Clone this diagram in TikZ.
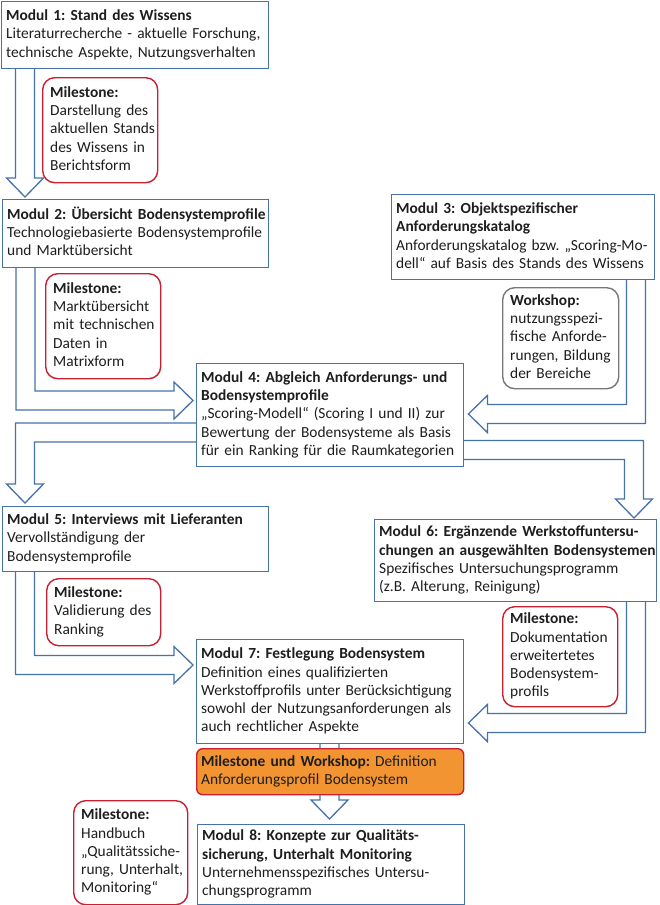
\documentclass[tikz,border=0pt]{standalone}
\usepackage{fontspec}
\setmainfont{Carlito}
\usetikzlibrary{calc,backgrounds}
\definecolor{bblue}{RGB}{70,114,170}
\definecolor{mred}{RGB}{200,32,48}
\definecolor{wgray}{RGB}{120,120,120}
\definecolor{morange}{RGB}{242,148,50}
\definecolor{tblack}{RGB}{30,30,30}
\frenchspacing
\newcommand\bodyfont{\fontsize{15.4}{18.3}\selectfont}
\newcommand\ls[1]{\noindent\begin{tabular}{@{}l@{}}#1\end{tabular}}
% block arrows
\newcommand\blkV[2]{\draw[barrow] ($(#2 |- #1)+(-9.5,-4)$) -- ($(#2)+(-9.5,-19)$) -- ($(#2)+(-18.5,-19)$) -- (#2) -- ($(#2)+(18.5,-19)$) -- ($(#2)+(9.5,-19)$) -- ($(#2 |- #1)+(9.5,-4)$) -- cycle;}
\newcommand\blkDR[2]{\draw[barrow] ($(#1)+(-9.5,-4)$) -- ($(#1 |- #2)+(-9.5,9.5)$) -- ($(#2)+(-19,9.5)$) -- ($(#2)+(-19,18.5)$) -- (#2) -- ($(#2)+(-19,-18.5)$) -- ($(#2)+(-19,-9.5)$) -- ($(#1 |- #2)+(9.5,-9.5)$) -- ($(#1)+(9.5,-4)$) -- cycle;}
\newcommand\blkDL[2]{\draw[barrow] ($(#1)+(9.5,-4)$) -- ($(#1 |- #2)+(9.5,9.5)$) -- ($(#2)+(19,9.5)$) -- ($(#2)+(19,18.5)$) -- (#2) -- ($(#2)+(19,-18.5)$) -- ($(#2)+(19,-9.5)$) -- ($(#1 |- #2)+(-9.5,-9.5)$) -- ($(#1)+(-9.5,-4)$) -- cycle;}
\newcommand\blkLD[2]{\draw[barrow] ($(#1)+(4,-9.5)$) -- ($(#2 |- #1)+(-9.5,-9.5)$) -- ($(#2)+(-9.5,-19)$) -- ($(#2)+(-18.5,-19)$) -- (#2) -- ($(#2)+(18.5,-19)$) -- ($(#2)+(9.5,-19)$) -- ($(#2 |- #1)+(9.5,9.5)$) -- ($(#1)+(4,9.5)$) -- cycle;}
\newcommand\blkRD[2]{\draw[barrow] ($(#1)+(-4,-9.5)$) -- ($(#2 |- #1)+(9.5,-9.5)$) -- ($(#2)+(9.5,-19)$) -- ($(#2)+(18.5,-19)$) -- (#2) -- ($(#2)+(-18.5,-19)$) -- ($(#2)+(-9.5,-19)$) -- ($(#2 |- #1)+(-9.5,9.5)$) -- ($(#1)+(-4,9.5)$) -- cycle;}
\tikzset{
  every node/.style={text=tblack, font=\bodyfont},
  modbox/.style={draw=bblue, line width=1.4pt, fill=white, anchor=north west, inner xsep=4.5pt, inner ysep=0pt, align=left},
  msbox/.style={draw=mred, line width=1.4pt, fill=white, rounded corners=12pt, anchor=north west, inner xsep=7.5pt, inner ysep=0pt, align=left},
  wsbox/.style={msbox, draw=wgray},
  mwbox/.style={modbox, draw=mred, fill=morange, rounded corners=6pt},
  barrow/.style={draw=bblue, line width=1.3pt, fill=white, line join=miter},
}
\begin{document}
\begin{tikzpicture}[x=1pt,y=-1pt]
\useasboundingbox (0,0) rectangle (660,905);
% modules
\node[modbox, text width=258pt, minimum height=67pt] (m1) at (1,1)
  {\ls{\textbf{Modul 1: Stand des Wissens}\\Literaturrecherche - aktuelle Forschung,\\technische Aspekte, Nutzungsverhalten}};
\node[modbox, text width=257pt, minimum height=68pt] (m2) at (2,199)
  {\ls{\textbf{Modul 2: Übersicht Bodensystemprofile}\\Technologiebasierte Bodensystemprofile\\und Marktübersicht}};
\node[modbox, text width=254pt, minimum height=85pt] (m3) at (391,194)
  {\ls{\textbf{Modul 3: Objektspezifischer}\\\textbf{Anforderungskatalog}\\Anforderungskatalog bzw. „Scoring-Mo-\\dell“ auf Basis des Stands des Wissens}};
\node[modbox, text width=258pt, minimum height=103pt] (m4) at (196,363)
  {\ls{\textbf{Modul 4: Abgleich Anforderungs- und}\\\textbf{Bodensystemprofile}\\„Scoring-Modell“ (Scoring I und II) zur\\Bewertung der Bodensysteme als Basis\\für ein Ranking für die Raumkategorien}};
\node[modbox, text width=257pt, minimum height=65pt] (m5) at (2,506)
  {\ls{\textbf{Modul 5: Interviews mit Lieferanten}\\Vervollständigung der\\Bodensystemprofile}};
\node[modbox, text width=273pt, minimum height=82pt] (m6) at (374,519)
  {\ls{\textbf{Modul 6: Ergänzende Werkstoffuntersu-}\\\textbf{chungen an ausgewählten Bodensystemen}\\Spezifisches Untersuchungsprogramm\\(z.B. Alterung, Reinigung)}};
\node[modbox, text width=258pt, minimum height=104pt] (m7) at (196,639)
  {\ls{\textbf{Modul 7: Festlegung Bodensystem}\\Definition eines qualifizierten\\Werkstoffprofils unter Berücksichtigung\\sowohl der Nutzungsanforderungen als\\auch rechtlicher Aspekte}};
\node[modbox, text width=258pt, minimum height=80pt] (m8) at (197,824)
  {\ls{\textbf{Modul 8: Konzepte zur Qualitäts-}\\\textbf{sicherung, Unterhalt Monitoring}\\Unternehmensspezifisches Untersu-\\chungsprogramm}};
% milestones
\node[msbox, text width=100pt, minimum height=105pt] (ms1) at (42,77)
  {\ls{\textbf{Milestone:}\\Darstellung des\\aktuellen Stands\\des Wissens in\\Berichtsform}};
\node[msbox, text width=100pt, minimum height=105pt] (ms2) at (45,273)
  {\ls{\textbf{Milestone:}\\Marktübersicht\\mit technischen\\Daten in\\Matrixform}};
\node[wsbox, text width=101pt, minimum height=101pt] (ws3) at (502,287)
  {\ls{\textbf{Workshop:}\\nutzungsspezi-\\fische Anforde-\\rungen, Bildung\\der Bereiche}};
\node[msbox, text width=99pt, minimum height=67pt] (ms5) at (46,578)
  {\ls{\textbf{Milestone:}\\Validierung des\\Ranking}};
\node[msbox, text width=100pt, minimum height=100pt] (ms6) at (502,606)
  {\ls{\textbf{Milestone:}\\Dokumentation\\erweitertetes\\Bodensystem-\\profils}};
\node[msbox, text width=99pt, minimum height=104pt] (ms8) at (73,800)
  {\ls{\textbf{Milestone:}\\Handbuch\\„Qualitätssiche-\\rung, Unterhalt,\\Monitoring“}};
% coordinates for arrows
\coordinate (A0) at ($(m1.south west)+(24,0)$);
\coordinate (A1) at ($(m2.north west)+(23,-2)$);
\coordinate (B0) at ($(m2.south west)+(23.5,0)$);
\coordinate (B1) at ($(m4.north west)+(-3,37.5)$);
\coordinate (C0) at ($(m3.south east)+(-19.5,0)$);
\coordinate (C1) at ($(m4.north east)+(4,51)$);
\coordinate (D0) at ($(m4.north west)+(0,69.5)$);
\coordinate (D1) at ($(m5.north west)+(23,-3)$);
\coordinate (E0) at ($(m4.north east)+(0,87)$);
\coordinate (E1) at ($(m6.north west)+(260,-1)$);
\coordinate (F0) at ($(m5.south west)+(23,0)$);
\coordinate (F1) at ($(m7.north west)+(-3,26)$);
\coordinate (G0) at ($(m6.south east)+(-21.5,0)$);
\coordinate (G1) at ($(m7.north east)+(4,84)$);
\coordinate (H0) at ($(m7.south west)+(133.5,0)$);
\coordinate (H1) at ($(m8.north west)+(132.5,-5)$);
\begin{scope}[on background layer]
\blkV{A0}{A1}
\blkDR{B0}{B1}
\blkDL{C0}{C1}
\blkLD{D0}{D1}
\blkRD{E0}{E1}
\blkDR{F0}{F1}
\blkDL{G0}{G1}
\blkV{H0}{H1}
\end{scope}
% milestone and workshop box (over arrow H)
\node[mwbox, text width=258pt, minimum height=46pt] (mw) at (196,748)
  {\ls{\textbf{Milestone und Workshop:} Definition\\Anforderungsprofil Bodensystem}};
\end{tikzpicture}
\end{document}
